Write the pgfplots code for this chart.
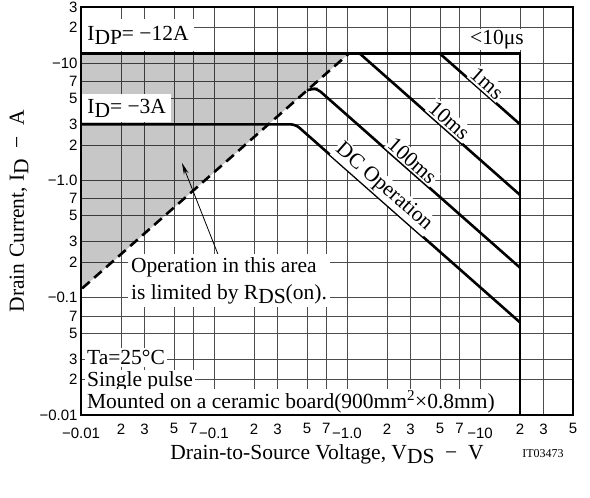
\documentclass[border=0pt]{standalone}
\usepackage{fontspec}
\setmainfont{Liberation Serif}
\setsansfont{Liberation Sans}
\usepackage{pgfplots}
\pgfplotsset{compat=1.18}
\usetikzlibrary{calc,arrows.meta}
\newcommand{\dec}[1]{\raisebox{-4pt}[\height][\depth]{#1}}
\newcommand{\sub}[1]{\raisebox{-0.45ex}{#1}}
\tikzset{txt/.style={font=\fontsize{21.5}{25}\selectfont},
  lab/.style={txt, fill=white, inner sep=1.5pt, anchor=south, rotate=-41.4}}
\begin{document}
\begin{tikzpicture}
\begin{axis}[name=ax, at={(0,0)}, anchor=south west,
  scale only axis, width=492pt, height=408pt,
  xmode=log, ymode=log, xmin=0.01, xmax=50, ymin=0.01, ymax=30,
  xtick={0.01,0.02,0.03,0.05,0.07,0.1,0.2,0.3,0.5,0.7,1,2,3,5,7,10,20,30,50},
  xticklabels={\dec{−0.01},2,3,5,7,\dec{−0.1},2,3,5,7,\dec{−1.0},2,3,5,7,\dec{−10},2,3,5},
  ytick={0.01,0.02,0.03,0.05,0.07,0.1,0.2,0.3,0.5,0.7,1,2,3,5,7,10,20,30},
  yticklabels={−0.01,2,3,5,7,−0.1,2,3,5,7,−1.0,2,3,5,7,−10,2,3},
  extra x ticks={0.1,1,10}, extra x tick labels={},
  extra y ticks={0.1,1,10}, extra y tick labels={},
  extra x tick style={grid style={line width=1.6pt, black}},
  extra y tick style={grid style={line width=1.6pt, black}},
  grid=major, major grid style={line width=0.6pt, black!70},
  major tick length=0pt,
  tick label style={font=\fontsize{15}{15}\sffamily},
  xticklabel style={yshift=-5pt},
  axis line style={line width=1.2pt},
  no markers,
]
\addplot[draw=none, fill=black, fill opacity=0.22] coordinates {(0.01,0.117) (1.03,12) (0.01,12) (0.01,0.117)};
\addplot[line width=2.6pt, dash pattern=on 10pt off 6pt] coordinates {(0.0102,0.12) (1.03,12)};
\addplot[line width=2.6pt] coordinates {(0.01,12) (20,12) (20,0.01)};
\addplot[line width=2.6pt] coordinates {(5,12) (20,3)};
\addplot[line width=2.6pt] coordinates {(1.25,12) (20,0.75)};
\addplot[line width=2.6pt, rounded corners=4pt] coordinates {(0.50,5.85) (0.56,6.05) (0.60,6.0) (20,0.18)};
\addplot[line width=2.6pt, rounded corners=5pt] coordinates {(0.01,3) (0.41,3) (20,0.0615)};

\node[txt, fill=white, anchor=south west, minimum height=32pt, inner xsep=5pt] at (axis cs:0.0102,12.5) {I\sub{DP}= −12A};
\node[txt, fill=white, anchor=south west, minimum height=28pt, inner xsep=5pt] at (axis cs:0.0102,3.1) {I\sub{D}= −3A};
\node[txt, fill=white, inner sep=1pt] at (axis cs:13.4,15.9) {<10μs};
\node[lab] at (axis cs:10.2,5.87) {1ms};
\node[lab] at (axis cs:5.31,2.83) {10ms};
\node[lab] at (axis cs:2.80,1.29) {100ms};
\node[lab] at (axis cs:1.66,0.74) {DC Operation};

\draw[-{Stealth[length=12pt,width=5pt]}, line width=0.8pt] (axis cs:0.107,0.235) -- (axis cs:0.0574,1.41);
\node[fill=white, anchor=west, align=left, font=\fontsize{21.5}{27}\selectfont, inner sep=3pt] at (axis cs:0.0225,0.14) {Operation in this area\\is limited by R\sub{DS}(on).};

\node[txt, fill=white, anchor=west, inner sep=2pt] at (axis cs:0.0107,0.0308) {Ta=25°C};
\node[txt, fill=white, anchor=west, inner sep=2pt] at (axis cs:0.0107,0.0193) {Single pulse};
\node[txt, fill=white, anchor=west, inner sep=2pt] at (axis cs:0.0107,0.013) {Mounted on a ceramic board(900mm\textsuperscript{2}×0.8mm)};
\end{axis}
\draw[line width=1.2pt] (ax.south west) rectangle (ax.north east);
\node[txt, rotate=90] at ($(ax.west)+(-62pt,0)$) {Drain Current, I\sub{D} \ − \ A};
\node[txt] at ($(ax.south)+(0,-39pt)$) {Drain-to-Source Voltage, V\sub{DS} \ − \ V};
\node[font=\fontsize{12}{12}\selectfont] at ($(ax.south east)+(-30pt,-39pt)$) {IT03473};
\pgfresetboundingbox
\path[use as bounding box] ($(ax.south west)+(-81pt,-82pt)$) rectangle ($(ax.north east)+(17pt,7pt)$);
\end{tikzpicture}
\end{document}
